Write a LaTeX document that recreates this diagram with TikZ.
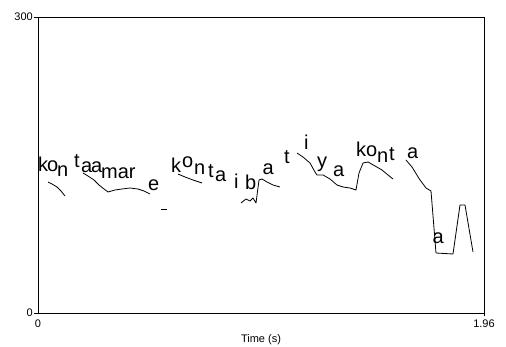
\documentclass[tikz,border=0pt]{standalone}
\usepackage{fontspec}
\setmainfont{Liberation Sans}
\begin{document}
\begin{tikzpicture}[x=1pt, y=-1pt,
    syl/.style={anchor=base west, inner sep=0pt, font=\fontsize{20}{20}\selectfont},
    axlab/.style={inner sep=1pt, font=\fontsize{11}{11}\selectfont},
    pitch/.style={line width=0.8pt, line join=round}]
    \useasboundingbox (0,0) rectangle (506,347);
    % frame and ticks
    \draw[line width=0.8pt] (38,17) rectangle (484,313);
    \draw (34,17) -- (38,17);
    \draw (34,313) -- (38,313);
    \draw (484,313) -- (484,316);
    \node[axlab, anchor=east] (fmax) at (34,17) {300};
    \node[axlab, anchor=east] (fmin) at (34,313) {0};
    \node[axlab, anchor=north] (tmin) at (38,319) {0};
    \node[axlab, anchor=north] (tmax) at (484,319) {1.96};
    \node[axlab] (tlab) at (261,340) {Time (s)};
    % syllable letters
    \foreach \txt/\x/\y [count=\i] in {k/38/172, o/47/172, n/57/177,
        t/74/168, a/81/173, a/91/173, mar/101/179, e/148/191,
        k/171/173, o/182/167.5, n/194/175, t/208/178, a/215/181.7,
        i/234/189, b/245/190, a/262.5/174.3, t/284/164, i/304/149.5,
        y/317/167.3, a/333/177, ko/356/156.5, n/377/163,
        t/389/161, a/407/158.3, a/432.5/244}
        \node[syl] (s\i) at (\x,\y) {\txt};
    % pitch contour
    \draw[pitch] (48,182) -- (52,184) -- (57,187) -- (61,191) -- (65,196);
    \draw[pitch] (83,173) -- (88,176) -- (94,180) -- (99,185) -- (104,189)
        -- (108,192) -- (115,190) -- (122,189) -- (130,188) -- (138,189)
        -- (144,191) -- (150,194);
    \draw[pitch] (178,174) -- (185,177) -- (193,180) -- (202,183);
    \draw[pitch] (161,209) -- (167,209);
    \draw[pitch] (241,203) -- (246,199) -- (250,201) -- (253,198) -- (256,203)
        -- (259,180) -- (262,179) -- (267,182) -- (273,185) -- (280,187);
    \draw[pitch] (297,153) -- (303,157) -- (310,163) -- (315,172) -- (317,175)
        -- (323,175) -- (330,179) -- (337,185) -- (343,187) -- (350,188)
        -- (356,190) -- (359,173) -- (363,163) -- (368,162) -- (375,166)
        -- (382,170) -- (388,175) -- (393,179);
    \draw[pitch] (406,160) -- (412,167) -- (420,180) -- (426,188) -- (431,191)
        -- (436,253) -- (453,254) -- (460,205) -- (465,205) -- (473,252);
\end{tikzpicture}
\end{document}
